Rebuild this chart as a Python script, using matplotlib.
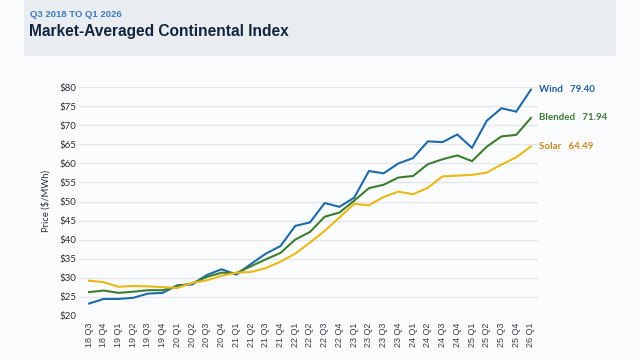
import matplotlib
matplotlib.use("Agg")
import matplotlib.pyplot as plt
from matplotlib.patches import Rectangle

quarters = ["18 Q3", "18 Q4", "19 Q1", "19 Q2", "19 Q3", "19 Q4", "20 Q1", "20 Q2", "20 Q3", "20 Q4",
            "21 Q1", "21 Q2", "21 Q3", "21 Q4", "22 Q1", "22 Q2", "22 Q3", "22 Q4", "23 Q1", "23 Q2",
            "23 Q3", "23 Q4", "24 Q1", "24 Q2", "24 Q3", "24 Q4", "25 Q1", "25 Q2", "25 Q3", "25 Q4", "26 Q1"]
wind = [23.2, 24.4, 24.4, 24.7, 25.8, 26.0, 28.0, 28.2, 30.7, 32.2, 30.8, 33.6, 36.3, 38.3, 43.6, 44.5,
        49.6, 48.6, 51.0, 58.0, 57.4, 60.0, 61.4, 65.8, 65.6, 67.6, 64.1, 71.2, 74.5, 73.6, 79.40]
blended = [26.2, 26.6, 26.0, 26.3, 26.7, 26.7, 27.7, 28.5, 30.2, 31.3, 31.2, 33.0, 34.8, 36.5, 40.0, 42.0,
           46.0, 47.1, 50.2, 53.5, 54.4, 56.3, 56.7, 59.8, 61.1, 62.1, 60.6, 64.4, 67.1, 67.5, 71.94]
solar = [29.2, 28.8, 27.6, 27.8, 27.7, 27.5, 27.3, 28.6, 29.3, 30.5, 31.3, 31.5, 32.5, 34.2, 36.3, 39.2,
         42.3, 45.8, 49.4, 49.0, 51.2, 52.6, 51.9, 53.6, 56.6, 56.8, 57.0, 57.6, 59.7, 61.6, 64.49]
series_names = ["Wind", "Blended", "Solar"]
yticks = [20, 25, 30, 35, 40, 45, 50, 55, 60, 65, 70, 75, 80]

line_colors = ["#1f6aa8", "#3f7d32", "#e8b917"]
label_colors = ["#1f5f9e", "#3f7a35", "#c98a1e"]

fig = plt.figure(figsize=(6.4, 3.6), dpi=100)
fig.patch.set_facecolor("#fafbfc")

# header band
fig.patches.append(Rectangle((24 / 640, 1 - 56 / 360), (616 - 24) / 640, 56 / 360,
                             transform=fig.transFigure, facecolor="#e9edf1", edgecolor="none", zorder=0))
fig.text(30 / 640, 1 - 17 / 360, "Q3 2018 TO Q1 2026", fontsize=6.8, fontweight="bold",
         color="#3b7bbd", family=["Liberation Sans", "DejaVu Sans"], va="baseline")
fig.text(29 / 640, 1 - 36 / 360, "Market-Averaged Continental Index", fontsize=11.2, fontweight="bold",
         color="#14243d", family=["Liberation Sans", "DejaVu Sans"], va="baseline")

ax = fig.add_axes([79 / 640, 1 - 315.7 / 360, (538 - 79) / 640, (315.7 - 87.3) / 360])
ax.set_facecolor("none")
x = list(range(len(quarters)))
for vals, c in zip([wind, blended, solar], line_colors):
    ax.plot(x, vals, color=c, lw=1.5, solid_joinstyle="miter", clip_on=False, zorder=3)

ax.set_ylim(20, 80)
ax.set_xlim(-0.68, 30.48)
ax.set_yticks(yticks)
ax.set_yticklabels([f"${v}" for v in yticks], fontsize=7, color="#2a2f36", family=["Lato", "DejaVu Sans"])
ax.set_xticks(x)
ax.set_xticklabels(quarters, rotation=90, fontsize=6.5, color="#3a3f46",
                   family=["Liberation Sans", "DejaVu Sans"])
ax.tick_params(axis="both", length=0)
ax.tick_params(axis="y", pad=2)
ax.tick_params(axis="x", pad=5)
for s in ax.spines.values():
    s.set_visible(False)
ax.grid(axis="y", color="#e2e5e9", lw=0.9)
ax.set_axisbelow(True)
ax.set_ylabel("Price ($/MWh)", fontsize=6.8, color="#2a2f36", family=["Lato", "DejaVu Sans"], labelpad=6)

for name, vals, c in zip(series_names, [wind, blended, solar], label_colors):
    ax.annotate(f"{name}   {vals[-1]:.2f}", xy=(x[-1], vals[-1]), xytext=(6, 0),
                textcoords="offset points", fontsize=7, fontweight="bold", color=c,
                family=["Lato", "DejaVu Sans"], va="center", ha="left", annotation_clip=False)

fig.savefig("out.png", dpi=100, facecolor=fig.get_facecolor())
